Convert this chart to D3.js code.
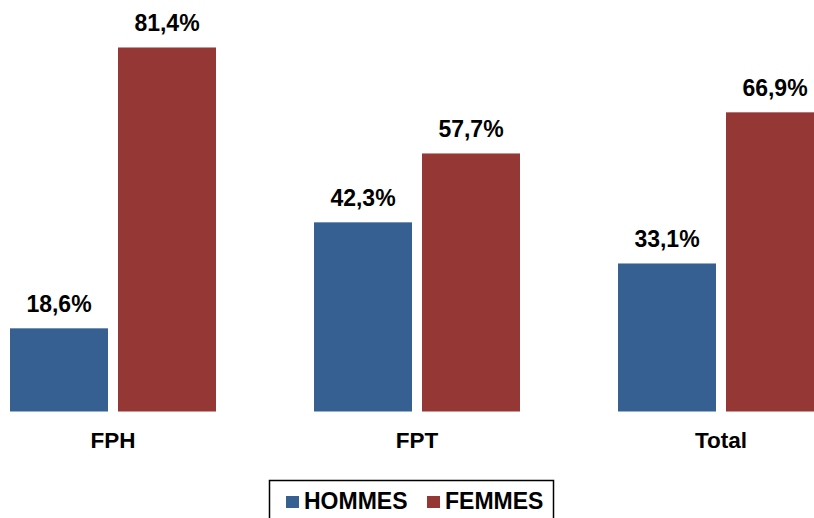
<!DOCTYPE html>
<html>
<head>
<meta charset="utf-8">
<script src="https://cdn.jsdelivr.net/npm/d3@7"></script>
<style>
  html, body { margin: 0; padding: 0; background: #fff; }
  svg { display: block; }
</style>
</head>
<body>
<div id="chart"></div>
<script>
const categories = ['FPH', 'FPT', 'Total'];
const seriesNames = ['HOMMES', 'FEMMES'];
const hommes = [18.6, 42.3, 33.1];
const femmes = [81.4, 57.7, 66.9];
const colors = ['#376092', '#953735'];

const width = 814, height = 518;
const baseY = 411.5;
const font = "'Liberation Sans', Arial, sans-serif";

const svg = d3.select('#chart').append('svg')
  .attr('width', width).attr('height', height);

// Group + inner band scales
const x0 = d3.scaleBand().domain(categories)
  .range([-39, 873]).paddingInner(0.3224).paddingOuter(0.1612);
const x1 = d3.scaleBand().domain(seriesNames)
  .range([0, x0.bandwidth()]).paddingInner(0.0926).paddingOuter(0);
const y = d3.scaleLinear().domain([0, 100]).range([baseY, baseY - 447.2]);

const rows = categories.map((c, i) => ({
  cat: c,
  values: [
    { key: 'HOMMES', v: hommes[i] },
    { key: 'FEMMES', v: femmes[i] },
  ],
}));

const fmt = v => v.toFixed(1).replace('.', ',') + '%';

const groups = svg.selectAll('.grp').data(rows).join('g')
  .attr('class', 'grp')
  .attr('transform', d => `translate(${x0(d.cat)},0)`);

groups.selectAll('rect').data(d => d.values).join('rect')
  .attr('x', d => x1(d.key))
  .attr('y', d => y(d.v))
  .attr('width', x1.bandwidth())
  .attr('height', d => baseY - y(d.v))
  .attr('fill', (d, i) => colors[i]);

groups.selectAll('text.val').data(d => d.values).join('text')
  .attr('class', 'val')
  .attr('x', d => x1(d.key) + x1.bandwidth() / 2)
  .attr('y', d => y(d.v) - 16.5)
  .attr('text-anchor', 'middle')
  .style('font-family', font)
  .style('font-weight', 'bold')
  .style('font-size', '23px')
  .attr('fill', '#000')
  .text(d => fmt(d.v));

// Category labels
svg.selectAll('text.cat').data(categories).join('text')
  .attr('class', 'cat')
  .attr('x', d => x0(d) + x0.bandwidth() / 2)
  .attr('y', 448)
  .attr('text-anchor', 'middle')
  .style('font-family', font)
  .style('font-weight', 'bold')
  .style('font-size', '22.5px')
  .attr('fill', '#000')
  .text(d => d);

// Legend
const legend = svg.append('g');
legend.append('rect')
  .attr('x', 269.5).attr('y', 480.5)
  .attr('width', 284).attr('height', 50)
  .attr('fill', '#fff')
  .attr('stroke', '#000')
  .attr('stroke-width', 1.5);

const legendX = [286, 427];
seriesNames.forEach((s, i) => {
  legend.append('rect')
    .attr('x', legendX[i]).attr('y', 496)
    .attr('width', 13).attr('height', 12)
    .attr('fill', colors[i]);
  legend.append('text')
    .attr('x', legendX[i] + 18).attr('y', 508.5)
    .style('font-family', font)
    .style('font-weight', 'bold')
    .style('font-size', '23px')
    .attr('fill', '#000')
    .text(s);
});
</script>
</body>
</html>
